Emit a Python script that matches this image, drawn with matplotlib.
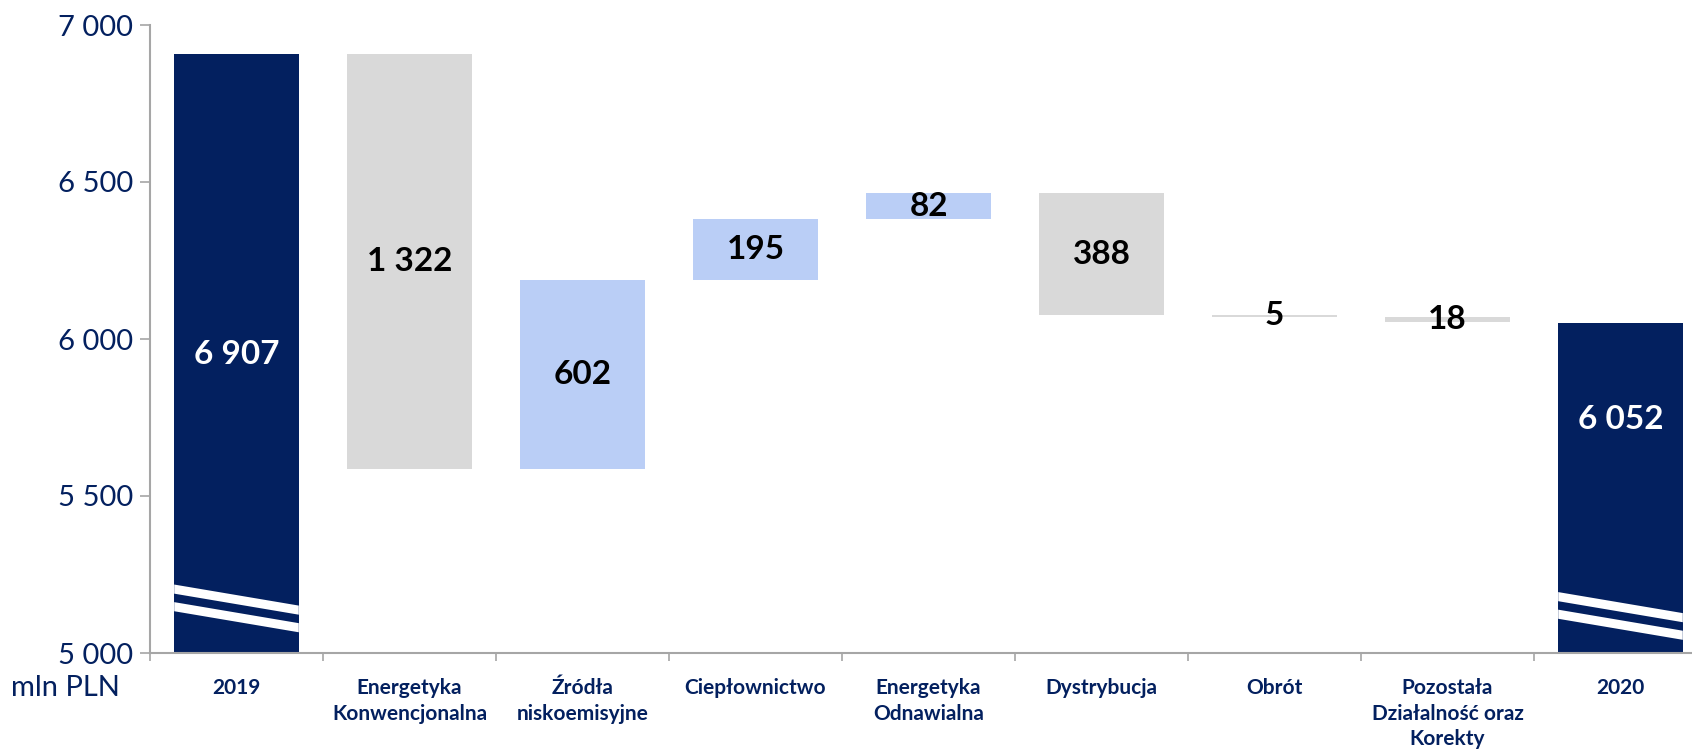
import numpy as np
import matplotlib
matplotlib.use("Agg")
import matplotlib.pyplot as plt
from matplotlib.patches import Polygon

# dane (mln PLN)
categories = ['2019', 'Energetyka\nKonwencjonalna', 'Źródła\nniskoemisyjne', 'Ciepłownictwo',
              'Energetyka\nOdnawialna', 'Dystrybucja', 'Obrót',
              'Pozostała\nDziałalność oraz\nKorekty', '2020']
start_value = 6907
end_value = 6052
changes = [-1322, 602, 195, 82, -388, -5, -18]
yticks = [5000, 5500, 6000, 6500, 7000]

# polozenie etykiet na slupkach sum i przerw osi
total_label_y = [5950, 5745]
break_top = [5218, 5194]

NAVY = '#03205F'
GRAY = '#D9D9D9'
BLUE = '#BACEF6'
AXIS = '#A6A6A6'
FONT = 'Lato'

plt.rcParams['font.family'] = [FONT, 'DejaVu Sans']


def fmt(v):
    return f"{abs(v):,}".replace(',', ' ')


fig = plt.figure(figsize=(16.92, 7.54), dpi=100)
ax = fig.add_axes([150 / 1692, 101 / 754, 1557 / 1692, 628 / 754])

x = np.arange(len(categories))
w = 0.72

# slupki sum
for i, v in [(0, start_value), (len(categories) - 1, end_value)]:
    ax.bar(x[i], v, width=w, color=NAVY, zorder=1)

# slupki zmian
level = start_value
for k, d in enumerate(changes):
    i = k + 1
    new_level = level + d
    lo, hi = min(level, new_level), max(level, new_level)
    ax.bar(x[i], hi - lo, bottom=lo, width=w, color=BLUE if d > 0 else GRAY, zorder=1)
    ax.text(x[i], (lo + hi) / 2, fmt(d), ha='center', va='center', fontsize=24,
            fontweight='bold', color='black', zorder=3)
    level = new_level

# etykiety sum
for i, v, ly in [(0, start_value, total_label_y[0]), (len(categories) - 1, end_value, total_label_y[1])]:
    ax.text(x[i], ly, fmt(v), ha='center', va='center', fontsize=24,
            fontweight='bold', color='white', zorder=3)

# przerwy osi (biale paski)
t, gap, drop = 29, 27, 67
for i, top in zip([0, len(categories) - 1], break_top):
    for s in range(2):
        y0 = top - s * (t + gap)
        pts = [(x[i] - w / 2, y0), (x[i] + w / 2, y0 - drop),
               (x[i] + w / 2, y0 - drop - t), (x[i] - w / 2, y0 - t)]
        ax.add_patch(Polygon(pts, closed=True, facecolor='white', edgecolor='none', zorder=2))

ax.set_xlim(-0.5, len(categories) - 0.5)
ax.set_ylim(5000, 7000)
ax.set_yticks(yticks)
ax.set_yticklabels([fmt(v) for v in yticks], fontsize=21, color=NAVY)
ax.tick_params(axis='y', direction='out', length=7, width=1.2, color=AXIS, pad=5)

ax.set_xticks(x)
ax.set_xticklabels(categories, fontsize=15, fontweight='bold', color=NAVY, linespacing=1.35,
                   va='top')
ax.tick_params(axis='x', which='major', length=0, pad=18)
ax.set_xticks(np.arange(len(categories) + 1) - 0.5, minor=True)
ax.tick_params(axis='x', which='minor', direction='out', length=6, width=1.2, color=AXIS)

for side in ['top', 'right']:
    ax.spines[side].set_visible(False)
for side in ['left', 'bottom']:
    ax.spines[side].set_color(AXIS)
    ax.spines[side].set_linewidth(1.5)

fig.text(120 / 1692, 1 - 688 / 754, 'mln PLN', ha='right', va='center', fontsize=21, color=NAVY)

fig.savefig('out.png', dpi=100)
